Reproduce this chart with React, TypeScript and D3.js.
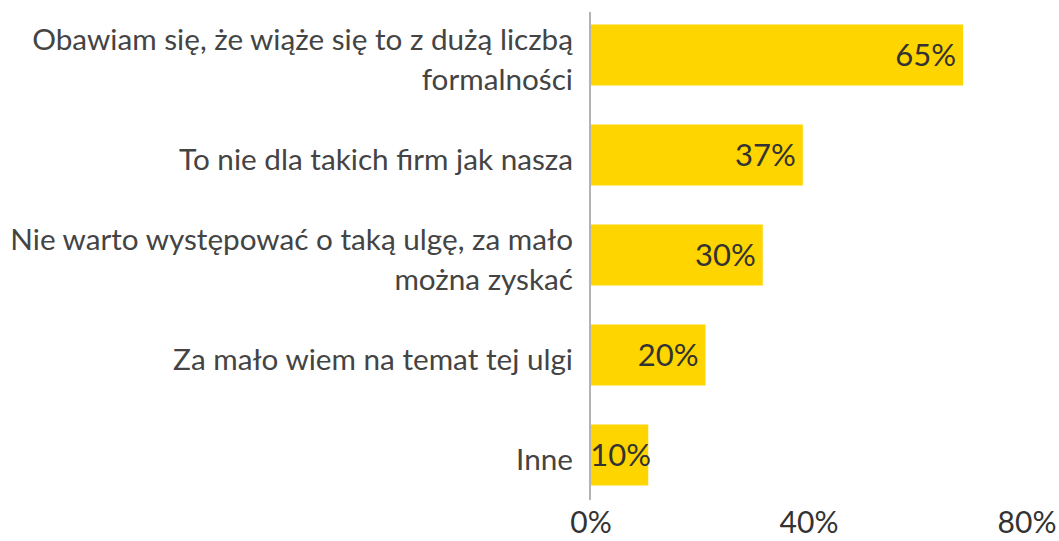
import React from "react";
import * as d3 from "d3";

const categories: string[] = [
  "Obawiam się, że wiąże się to z dużą liczbą\nformalności",
  "To nie dla takich firm jak nasza",
  "Nie warto występować o taką ulgę, za mało\nmożna zyskać",
  "Za mało wiem na temat tej ulgi",
  "Inne",
];
const values: number[] = [65, 37, 30, 20, 10];
const ticks: number[] = [0, 40, 80];

const W = 1059;
const H = 541;
const FONT = "Lato, 'Open Sans', sans-serif";

export default function App() {
  const x = d3.scaleLinear().domain([0, 80]).range([591, 1049]);
  const tickX = d3.scaleLinear().domain([0, 80]).range([591, 1027]);
  const y = d3
    .scaleBand<string>()
    .domain(categories)
    .range([5, 505])
    .paddingInner(0.39)
    .paddingOuter(0.195);
  const bw = y.bandwidth();
  const lh = 40;

  return (
    <svg
      width={W}
      height={H}
      style={{ position: "absolute", left: 0, top: 0, background: "#fff" }}
      fontFamily={FONT}
    >
      {categories.map((c, i) => {
        const y0 = y(c)!;
        const cy = y0 + bw / 2;
        const lines = c.split("\n");
        return (
          <g key={c}>
            <rect x={x(0)} y={y0} width={x(values[i]) - x(0)} height={bw} fill="#FFD500" />
            <text
              x={Math.max(x(values[i]) - 7, x(0) + 60)}
              y={cy}
              dy="0.36em"
              textAnchor="end"
              fontSize={31}
              fill="#333333"
            >
              {values[i]}%
            </text>
            <text textAnchor="end" fontSize={29.7} fill="#444444">
              {lines.map((l, k) => (
                <tspan
                  key={k}
                  x={573}
                  y={cy + 4 + (k - (lines.length - 1) / 2) * lh}
                  dy="0.36em"
                >
                  {l}
                </tspan>
              ))}
            </text>
          </g>
        );
      })}
      <line x1={590} x2={590} y1={12} y2={500} stroke="#b3b3b3" strokeWidth={2} />
      {ticks.map((t) => (
        <text key={t} x={tickX(t)} y={533} textAnchor="middle" fontSize={30} fill="#333333">
          {t}%
        </text>
      ))}
    </svg>
  );
}
